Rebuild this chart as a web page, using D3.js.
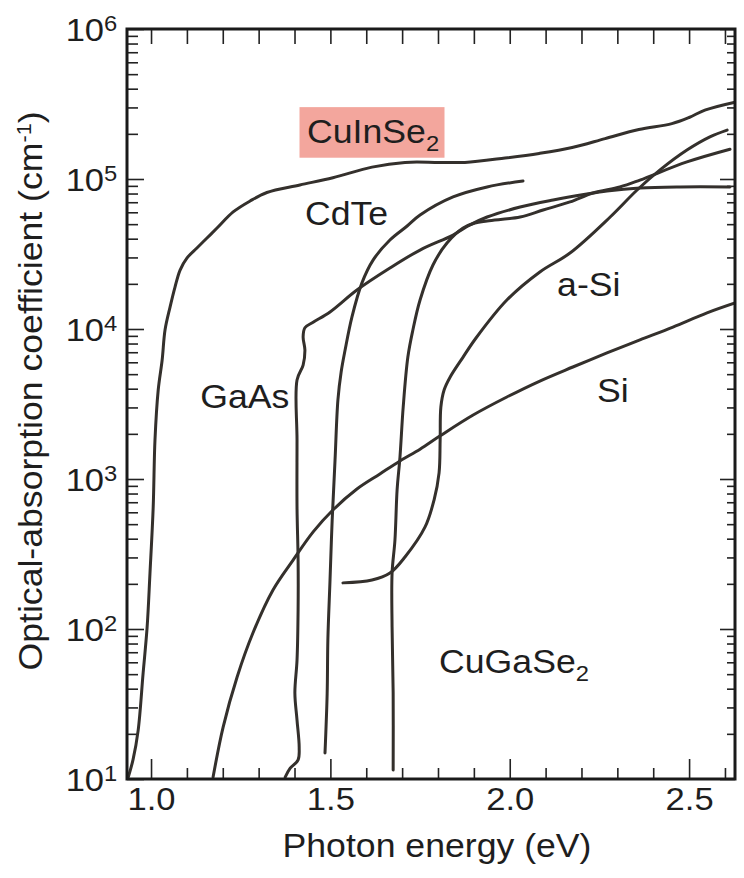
<!DOCTYPE html>
<html>
<head>
<meta charset="utf-8">
<script src="https://cdn.jsdelivr.net/npm/d3@7"></script>
<style>
  body { margin: 0; background: #fff; }
  text { font-family: "Liberation Sans", Arial, sans-serif; fill: #1e1e1e; }
</style>
</head>
<body>
<script>
// [photon energy (eV), absorption coefficient (cm^-1)]
var cuInSe2 = [[0.936,10.2],[0.950,13.5],[0.964,21],[0.978,51],[0.989,102],[0.997,234],[1.006,646],
  [1.011,1820],[1.020,3920],[1.031,6210],[1.039,9850],[1.053,14000],[1.067,19100],[1.081,24700],
  [1.100,29700],[1.128,34700],[1.156,40400],[1.184,47100],[1.229,60300],[1.276,71300],[1.323,81300],
  [1.415,91200],[1.507,102000],[1.616,120000],[1.708,129000],[1.803,129000],[1.875,129000],
  [1.987,138000],[2.082,148000],[2.174,162000],[2.266,186000],[2.360,214000],[2.452,234000],
  [2.500,257000],[2.544,288000],[2.625,324000]];

var cdTe = [[1.485,14.9],[1.491,37],[1.493,85],[1.499,212],[1.505,533],[1.513,1340],[1.521,3370],
  [1.530,5170],[1.541,7240],[1.560,12000],[1.588,20300],[1.619,28800],[1.666,39200],[1.714,48600],
  [1.750,57500],[1.842,75900],[1.937,88500],[2.037,97000]];

var gaAs = [[1.374,10.3],[1.388,11.8],[1.410,13.4],[1.413,16.3],[1.407,24.7],[1.401,37.4],[1.407,62],
  [1.410,134],[1.410,288],[1.407,650],[1.407,1820],[1.407,4570],[1.424,5750],[1.429,7240],
  [1.424,8850],[1.429,10200],[1.452,11100],[1.499,13000],[1.574,18200],[1.666,25500],[1.750,33600],
  [1.842,42300],[1.889,49400],[1.937,55800],[2.029,65000],[2.121,72400],[2.215,79400],[2.271,83200],
  [2.363,87100],[2.475,88500],[2.614,88500]];

var cuGaSe2 = [[1.675,11.5],[1.675,37.4],[1.672,103],[1.672,236],[1.680,392],[1.686,845],[1.694,1400],
  [1.703,3020],[1.716,6500],[1.730,9850],[1.750,15600],[1.786,26700],[1.825,37400],[1.870,47100],
  [1.903,50900],[1.937,52500],[2.029,55800],[2.093,62100],[2.168,70300],[2.232,80700],[2.307,88500],
  [2.363,98400],[2.494,130000],[2.614,158000]];

var aSi = [[1.535,203],[1.616,212],[1.666,236],[1.708,302],[1.764,479],[1.789,724],[1.803,1100],
  [1.806,1820],[1.808,3020],[1.817,3920],[1.834,4790],[1.870,6500],[1.906,8710],[1.992,15600],
  [2.084,24000],[2.168,32100],[2.280,55800],[2.355,84500],[2.419,115000],[2.494,156000],
  [2.558,191000],[2.606,212000]];

var si = [[1.173,10.3],[1.201,22.2],[1.240,47.9],[1.284,94],[1.340,182],[1.396,288],[1.452,444],
  [1.507,621],[1.574,857],[1.638,1080],[1.694,1320],[1.750,1580],[1.806,1940],[1.898,2670],
  [1.992,3520],[2.084,4500],[2.176,5580],[2.271,6920],[2.363,8450],[2.455,10300],[2.550,12800],
  [2.628,14900]];

var series = [cuInSe2, cdTe, gaAs, cuGaSe2, aSi, si];

// curve labels: name, subscript, anchor (energy, alpha) at start of the baseline
var labels = [
  {name: "CuInSe", sub: "2", e: 1.435, a: 174000, box: true},
  {name: "CdTe", sub: "", e: 1.429, a: 49400},
  {name: "GaAs", sub: "", e: 1.137, a: 2970},
  {name: "a-Si", sub: "", e: 2.132, a: 16600},
  {name: "Si", sub: "", e: 2.243, a: 3260},
  {name: "CuGaSe", sub: "2", e: 1.803, a: 50.9}
];

var xMajor = [1.0, 1.5, 2.0, 2.5],
    xMinor = [1.1, 1.2, 1.3, 1.4, 1.6, 1.7, 1.8, 1.9, 2.1, 2.2, 2.3, 2.4, 2.6],
    yMajor = [1e1, 1e2, 1e3, 1e4, 1e5, 1e6];

var margin = {top: 29, right: 9, bottom: 99, left: 127},
    width = 744 - margin.left - margin.right,
    height = 878 - margin.top - margin.bottom;

// the lettering in the figure is a bit wider than Liberation Sans
var stretch = "scale(1.08,1)";

var svg = d3.select("body")
    .append("svg")
        .attr("width", width + margin.left + margin.right)
        .attr("height", height + margin.top + margin.bottom)
    .append("g")
        .attr("transform", "translate(" + margin.left + "," + margin.top + ")");

var x = d3.scaleLinear().domain([0.933, 2.628]).range([0, width]),
    y = d3.scaleLog().domain([10, 1e6]).range([height, 0]);

var yMinor = y.ticks().filter(function(d) { return yMajor.indexOf(d) < 0; });

function styleAxis(g) {
  g.select(".domain").remove();
  g.attr("color", "#222")
   .attr("font-family", '"Liberation Sans", Arial, sans-serif')
   .attr("font-size", 32);
  g.selectAll(".tick line").attr("stroke-width", 1.6);
  g.selectAll(".tick text").attr("transform", stretch);
}

// bottom axis, ticks point inward
svg.append("g")
    .attr("transform", "translate(0," + height + ")")
    .call(d3.axisBottom(x).tickValues(xMajor).tickSizeInner(-20).tickSizeOuter(0)
      .tickPadding(8).tickFormat(d3.format(".1f")))
    .call(styleAxis);
svg.append("g")
    .attr("transform", "translate(0," + height + ")")
    .call(d3.axisBottom(x).tickValues(xMinor).tickSize(-11).tickFormat(""))
    .call(styleAxis);

// top axis, no labels
svg.append("g")
    .call(d3.axisTop(x).tickValues(xMajor.concat(xMinor)).tickSize(-15).tickFormat(""))
    .call(styleAxis);

// left axis with 10^n labels
var yAxisG = svg.append("g")
    .call(d3.axisLeft(y).tickValues(yMajor).tickSizeInner(-17).tickSizeOuter(0).tickPadding(9))
    .call(styleAxis);
yAxisG.selectAll(".tick text")
    .attr("dy", "0.36em")
    .each(function(d) {
      var t = d3.select(this).text(null);
      t.append("tspan").text("10");
      t.append("tspan").attr("font-size", 22).attr("dy", -10).text(Math.round(Math.log10(d)));
    });
svg.append("g")
    .call(d3.axisLeft(y).tickValues(yMinor).tickSize(-11).tickFormat(""))
    .call(styleAxis);

// right axis
svg.append("g")
    .attr("transform", "translate(" + width + ",0)")
    .call(d3.axisRight(y).tickValues(yMajor).tickSize(-15).tickFormat(""))
    .call(styleAxis);
svg.append("g")
    .attr("transform", "translate(" + width + ",0)")
    .call(d3.axisRight(y).tickValues(yMinor).tickSize(-8).tickFormat(""))
    .call(styleAxis);

// axis titles
svg.append("text")
    .attr("transform", "translate(" + (width / 2 + 6) + "," + (height + 78) + ") " + stretch)
    .attr("text-anchor", "middle")
    .style("font-size", "33px")
    .text("Photon energy (eV)");

var yTitle = svg.append("text")
    .attr("transform", "translate(-85," + (height / 2 - 13) + ") rotate(-90) " + stretch)
    .attr("text-anchor", "middle")
    .style("font-size", "33px");
yTitle.append("tspan").text("Optical-absorption coefficient (cm");
yTitle.append("tspan").style("font-size", "20px").attr("dy", -11).text("-1");
yTitle.append("tspan").attr("dy", 11).text(")");

// curves
svg.append("clipPath").attr("id", "plot-area")
  .append("rect").attr("width", width).attr("height", height);

var line = d3.line()
    .curve(d3.curveCatmullRom.alpha(0.5))
    .x(function(d) { return x(d[0]); })
    .y(function(d) { return y(d[1]); });

svg.append("g")
    .attr("clip-path", "url(#plot-area)")
  .selectAll(".curve")
  .data(series)
  .enter().append("path")
    .attr("class", "curve")
    .attr("d", line)
    .attr("fill", "none")
    .attr("stroke", "#34302c")
    .attr("stroke-width", 3)
    .attr("stroke-linecap", "round")
    .attr("stroke-linejoin", "round");

// labels
var lab = svg.selectAll(".label")
  .data(labels)
  .enter().append("g")
    .attr("class", "label")
    .attr("transform", function(d) { return "translate(" + x(d.e) + "," + y(d.a) + ") " + stretch; });

lab.append("text")
    .style("font-size", "33px")
    .each(function(d) {
      var t = d3.select(this);
      t.append("tspan").text(d.name);
      if (d.sub) t.append("tspan").style("font-size", "22px").attr("dy", 8).text(d.sub);
    });

lab.filter(function(d) { return d.box; }).each(function() {
  var g = d3.select(this),
      bb = g.select("text").node().getBBox();
  g.insert("rect", "text")
    .attr("x", bb.x - 7)
    .attr("y", bb.y - 6)
    .attr("width", bb.width + 12)
    .attr("height", bb.height + 8)
    .attr("fill", "#f3a69d");
});

// frame
svg.append("rect")
    .attr("width", width)
    .attr("height", height)
    .attr("fill", "none")
    .attr("stroke", "#1a1a1a")
    .attr("stroke-width", 3);
</script>
</body>
</html>
